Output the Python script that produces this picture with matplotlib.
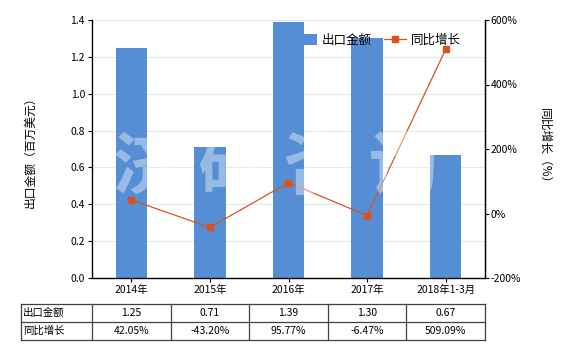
import numpy as np
import matplotlib.pyplot as plt
import matplotlib as mpl

mpl.rcParams['font.family'] = ['Noto Sans CJK SC', 'DejaVu Sans']
mpl.rcParams['axes.unicode_minus'] = False

# data
years = ['2014年', '2015年', '2016年', '2017年', '2018年1-3月']
export_value = [1.25, 0.71, 1.39, 1.30, 0.67]      # 百万美元
yoy_growth = [42.05, -43.20, 95.77, -6.47, 509.09]  # %
value_labels = ['1.25', '0.71', '1.39', '1.30', '0.67']
growth_labels = ['42.05%', '-43.20%', '95.77%', '-6.47%', '509.09%']
row_names = ['出口金额', '同比增长']

bar_color = '#558ed5'
line_color = '#d9531e'
fs = 7.5

fig = plt.figure(figsize=(5.8, 3.5), dpi=100)
W, H = 580.0, 350.0
ax_l, ax_r, ax_t, ax_b = 92, 485, 20, 278
ax = fig.add_axes([ax_l / W, 1 - ax_b / H, (ax_r - ax_l) / W, (ax_b - ax_t) / H])

x = np.arange(len(years))
ax.bar(x, export_value, width=0.4, color=bar_color, zorder=2, label='出口金额')
ax.set_xlim(-0.5, len(years) - 0.5)
ax.set_ylim(0, 1.4)
ax.set_yticks(np.arange(0, 1.41, 0.2))
ax.set_yticklabels(['%.1f' % v for v in np.arange(0, 1.41, 0.2)])
ax.grid(axis='y', color='#dfeaee', linewidth=0.8, zorder=0)
ax.set_xticks(x)
ax.set_xticklabels(years)
ax.tick_params(labelsize=fs, length=3, width=0.8, pad=2)
ax.spines['top'].set_visible(False)
for s in ['left', 'right', 'bottom']:
    ax.spines[s].set_linewidth(0.9)
ax.set_ylabel('出口金额（百万美元）', fontsize=8.5, va='center')
ax.yaxis.set_label_coords((30 - ax_l) / (ax_r - ax_l), 0.5)

ax2 = ax.twinx()
ax2.plot(x, yoy_growth, color=line_color, linewidth=0.9, marker='s',
         markersize=4, zorder=3, label='同比增长')
ax2.set_ylim(-200, 600)
ax2.set_yticks(np.arange(-200, 601, 200))
ax2.set_yticklabels(['%d%%' % v for v in np.arange(-200, 601, 200)])
ax2.tick_params(labelsize=fs, length=3, width=0.8, pad=1)
ax2.spines['top'].set_visible(False)
ax2.spines['right'].set_linewidth(0.9)
ax2.set_ylabel('同比增长（%）', fontsize=8.5, rotation=270, va='center')
ax2.yaxis.set_label_coords((545 - ax_l) / (ax_r - ax_l), 0.5)

# legend
h1, l1 = ax.get_legend_handles_labels()
h2, l2 = ax2.get_legend_handles_labels()
ax2.legend(h1 + h2, l1 + l2, ncol=2, loc='center', bbox_to_anchor=(0.728, 0.922),
           frameon=False, fontsize=9, handlelength=1.7, handleheight=1.0,
           columnspacing=1.0, handletextpad=0.4)

# watermark
fig.text(276 / W, 1 - 168 / H, '济 研 咨 询', fontsize=50, fontweight='bold',
         color='white', alpha=0.4, ha='center', va='center', zorder=10)

# table below the chart
cat_w = (ax_r - ax_l) / len(years)
tb_l, tb_t, tb_b = 21, 304, 340
tax = fig.add_axes([tb_l / W, 1 - tb_b / H, (ax_r - tb_l) / W, (tb_b - tb_t) / H])
first = -0.5 - (ax_l - tb_l) / cat_w
tax.set_xlim(first, len(years) - 0.5)
tax.set_ylim(0, 2)
tax.axis('off')
edges = [first] + list(np.arange(-0.5, len(years), 1.0))
lc = '#404040'
for e in edges:
    tax.plot([e, e], [0, 2], color=lc, linewidth=0.9, clip_on=False)
for yy in [0, 1, 2]:
    tax.plot([first, len(years) - 0.5], [yy, yy], color=lc, linewidth=0.9, clip_on=False)
rows = [value_labels, growth_labels]
for r, (name, vals) in enumerate(zip(row_names, rows)):
    yc = 1.5 - r
    tax.text(first + 0.03, yc, name, fontsize=fs, ha='left', va='center')
    for i, v in enumerate(vals):
        tax.text(i, yc, v, fontsize=fs, ha='center', va='center')

plt.savefig('out.png', dpi=100)
